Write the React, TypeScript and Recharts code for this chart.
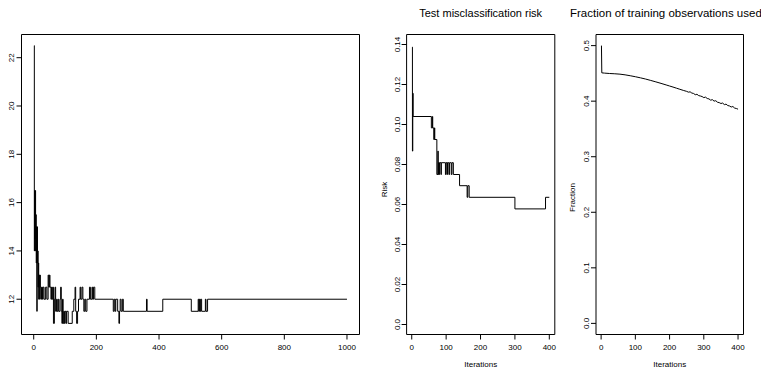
import React from 'react';
import { LineChart, Line, XAxis, YAxis, ReferenceArea } from 'recharts';

// step change points for the left panel: [iteration, value]
const leftSteps: [number, number][] = [
  [1, 22.5], [2, 14], [3, 16.5], [4, 14.5], [5, 16.5], [6, 14], [7, 15.5], [8, 13.5],
  [9, 15], [10, 11.5], [11, 15], [12, 13.5], [13, 14], [14, 12.5], [15, 13.5], [16, 12],
  [17, 13], [19, 12], [20, 13], [21, 12.5], [23, 12], [25, 12.5], [28, 12], [30, 12.5],
  [33, 12], [38, 12.5], [42, 12], [46, 13], [48, 12.5], [50, 13], [52, 12.5], [55, 12],
  [57, 12.5], [59, 12], [61, 12.5], [63, 11], [66, 12], [68, 12.5], [70, 11.5], [73, 12],
  [75, 11.5], [78, 12], [80, 11.5], [84, 12], [86, 12.5], [88, 11.5], [90, 11], [92, 12],
  [94, 11], [96, 11.5], [98, 11], [100, 11.5], [103, 11], [105, 11.5], [110, 11],
  [123, 11.5], [128, 12], [132, 12.5], [134, 11.5], [137, 11], [140, 11.5], [143, 12],
  [148, 12.5], [150, 12], [154, 12.5], [157, 12], [160, 11.5], [163, 12], [166, 11.5],
  [170, 12], [178, 12.5], [181, 12], [186, 12.5], [188, 12], [191, 12.5], [195, 12],
  [254, 11.5], [257, 12], [260, 11.5], [262, 12], [268, 11.5], [272, 11], [274, 11.5],
  [276, 12], [279, 11.5], [283, 12], [286, 11.5], [360, 12], [362, 11.5], [412, 12],
  [503, 11.5], [525, 12], [527, 11.5], [529, 12], [531, 11.5], [533, 12], [536, 11.5],
  [548, 12], [550, 11.5], [555, 12], [1000, 12],
];

// test misclassification risk, step change points
const riskSteps: [number, number][] = [
  [1, 0.1387], [2, 0.0867], [3, 0.1156], [4, 0.104], [57, 0.0983], [60, 0.104],
  [61, 0.0983], [64, 0.0925], [66, 0.0983], [67, 0.0925], [73, 0.075], [76, 0.0867],
  [77, 0.075], [78, 0.0809], [80, 0.075], [81, 0.0809], [85, 0.075], [86, 0.0809],
  [98, 0.075], [100, 0.0809], [103, 0.075], [104, 0.0809], [108, 0.075], [110, 0.0809],
  [115, 0.075], [117, 0.0809], [121, 0.075], [139, 0.0694], [161, 0.0636], [163, 0.0694],
  [167, 0.0636], [300, 0.0578], [389, 0.0636], [400, 0.0636],
];

// fraction of training observations used
const fracPoints: [number, number][] = [
  [1, 0.5], [2, 0.451], [10, 0.4505], [25, 0.4498], [40, 0.4493], [55, 0.4486],
  [70, 0.4474], [85, 0.4458], [100, 0.4440], [115, 0.4420], [130, 0.4398], [145, 0.4373],
  [160, 0.4347], [175, 0.4320], [190, 0.4292], [200, 0.4273], [210, 0.4254], [220, 0.4234],
  [230, 0.4214], [240, 0.4194], [250, 0.4176], [255, 0.4162], [260, 0.4168], [265, 0.4146],
  [270, 0.4139], [275, 0.4116], [280, 0.4124], [285, 0.4100], [290, 0.4093], [295, 0.4083],
  [300, 0.4064], [305, 0.4073], [310, 0.4048], [315, 0.4041], [320, 0.4018], [325, 0.4027],
  [330, 0.4001], [335, 0.4008], [340, 0.3981], [345, 0.3974], [350, 0.3958], [355, 0.3966],
  [360, 0.3938], [365, 0.3947], [370, 0.3921], [375, 0.3914], [380, 0.3895], [385, 0.3904],
  [390, 0.3876], [395, 0.3868], [400, 0.3856],
];

const leftXTicks = [0, 200, 400, 600, 800, 1000];
const leftYTicks = [12, 14, 16, 18, 20, 22];
const iterTicks = [0, 100, 200, 300, 400];
const riskTicks = [0, 0.02, 0.04, 0.06, 0.08, 0.1, 0.12, 0.14];
const fracTicks = [0, 0.1, 0.2, 0.3, 0.4, 0.5];

const FONT = '"Liberation Sans", Arial, sans-serif';
const NARROW = '"Liberation Sans Narrow", "Liberation Sans", Arial, sans-serif';

const toRows = (pts: [number, number][]) => pts.map(([x, y]) => ({ x, y }));

const YTick = ({ x, y, payload, fmt }: any) => (
  <text x={x} y={y} transform={`rotate(-90, ${x}, ${y})`} textAnchor="middle"
    fontSize={8} fontFamily={NARROW} fill="#000">
    {fmt(payload.value)}
  </text>
);

interface PanelProps {
  left: number;
  width: number;
  yAxisWidth: number;
  marginRight: number;
  data: { x: number; y: number }[];
  xDomain: [number, number];
  yDomain: [number, number];
  xTicks: number[];
  yTicks: number[];
  fmt: (v: number) => string;
  step: boolean;
  xLabel?: string;
  yLabel?: string;
  yLabelOffset?: number;
  yLabelDy?: number;
}

const Panel = (p: PanelProps) => (
  <div style={{ position: 'absolute', left: p.left, top: 0 }}>
    <LineChart width={p.width} height={369} data={p.data}
      margin={{ top: 34.5, right: p.marginRight, bottom: 0, left: 0 }}>
      <XAxis dataKey="x" type="number" domain={p.xDomain} ticks={p.xTicks} allowDataOverflow
        height={34.5} axisLine={false} tickLine={{ stroke: '#000' }} tickSize={5} tickMargin={5}
        tick={{ fontSize: 8, fontFamily: NARROW, fill: '#000' }}
        label={p.xLabel ? { value: p.xLabel, position: 'insideBottom', offset: 2, fontSize: 8, fontFamily: FONT, fill: '#000' } : undefined} />
      <YAxis type="number" domain={p.yDomain} ticks={p.yTicks} allowDataOverflow
        width={p.yAxisWidth} axisLine={false} tickLine={{ stroke: '#000' }} tickSize={5} tickMargin={2}
        tick={<YTick fmt={p.fmt} />}
        label={p.yLabel ? { value: p.yLabel, angle: -90, position: 'insideLeft', offset: p.yLabelOffset, dy: p.yLabelDy, fontSize: 8, fontFamily: FONT, fill: '#000', style: { textAnchor: 'middle' } } : undefined} />
      <ReferenceArea x1={p.xDomain[0]} x2={p.xDomain[1]} y1={p.yDomain[0]} y2={p.yDomain[1]}
        fill="none" stroke="#000" strokeWidth={1} ifOverflow="visible" />
      <Line dataKey="y" type={p.step ? 'stepAfter' : 'linear'} stroke="#000" strokeWidth={1}
        dot={false} isAnimationActive={false} />
    </LineChart>
  </div>
);

const titleStyle: React.CSSProperties = {
  position: 'absolute', top: 7, fontSize: 11, lineHeight: '12px', fontFamily: FONT,
  color: '#000', whiteSpace: 'nowrap',
};

export default function App() {
  return (
    <div style={{ position: 'absolute', left: 0, top: 0, width: 761, height: 369, overflow: 'hidden', background: '#fff' }}>
      <Panel left={0} width={370} yAxisWidth={21.5} marginRight={10.5} data={toRows(leftSteps)}
        xDomain={[-38.96, 1039.96]} yDomain={[10.54, 22.96]} xTicks={leftXTicks} yTicks={leftYTicks}
        fmt={(v) => String(v)} step />
      <Panel left={360} width={200} yAxisWidth={46.6} marginRight={5.2} data={toRows(riskSteps)}
        xDomain={[-14.96, 415.96]} yDomain={[-0.005, 0.145]} xTicks={iterTicks} yTicks={riskTicks}
        fmt={(v) => (v === 0 ? '0.0' : v.toFixed(2))} step xLabel="Iterations" yLabel="Risk"
        yLabelOffset={24} yLabelDy={5} />
      <Panel left={560} width={201} yAxisWidth={36} marginRight={17.5} data={toRows(fracPoints)}
        xDomain={[-14.96, 415.96]} yDomain={[-0.02, 0.52]} xTicks={iterTicks} yTicks={fracTicks}
        fmt={(v) => v.toFixed(1)} step={false} xLabel="Iterations" yLabel="Fraction"
        yLabelOffset={12} yLabelDy={13} />
      <div style={{ ...titleStyle, left: 480.7 - 150, width: 300, textAlign: 'center' }}>Test misclassification risk</div>
      <div style={{ ...titleStyle, left: 570, fontSize: 11.5 }}>Fraction of training observations used</div>
    </div>
  );
}
